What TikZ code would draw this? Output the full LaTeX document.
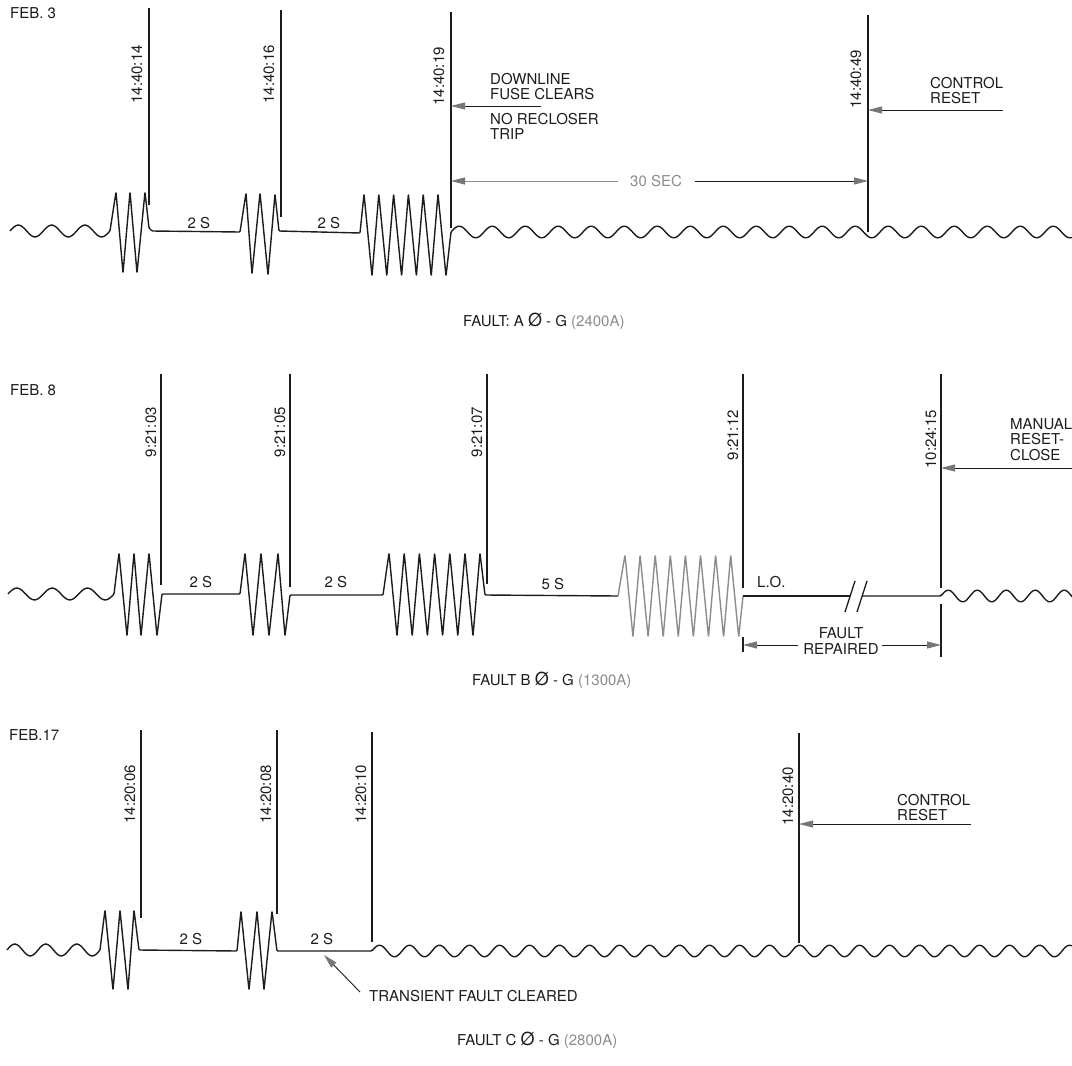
\documentclass[tikz,border=0pt]{standalone}
\usepackage{fontspec}
\setmainfont{TeX Gyre Heros}
\usetikzlibrary{arrows.meta}
\definecolor{ink}{HTML}{1c1c1c}
\definecolor{faint}{HTML}{8c8c8c}
\definecolor{tipgray}{HTML}{767676}
\tikzset{
  note/.style={font=\fontsize{15}{15.5}\selectfont, text=ink, inner sep=0pt},
  stamp/.style={note, rotate=90, anchor=east},
  stampline/.style={draw=ink, line width=1.3pt},
  wave/.style={draw=ink, line width=1.4pt, line join=round, rounded corners=1pt},
  pointer/.style={draw=ink, line width=0.9pt, -{Triangle[length=14pt,width=7pt,color=tipgray]}},
}
\newcommand{\phase}{{\fontsize{18}{18}\selectfont Ø}}

\begin{document}
\begin{tikzpicture}[x=1pt, y=-1pt]
  \useasboundingbox (0,0) rectangle (1072,1066);

  % ---------- FEB. 3 ----------
  \node[note, anchor=west] (feb3) at (10,13) {FEB. 3};
  \foreach \n/\x/\t/\b/\ly/\s in {1/149/8/205/45/14:40:14, 2/281/10/217/45/14:40:16,
      3/451/12/228/47/14:40:19, 4/868/15/232/50/14:40:49} {
    \coordinate (a\n) at (\x,\t);
    \coordinate (a\n-end) at (\x,\b);
    \draw[stampline] (a\n) -- (a\n-end);
    \node[stamp] (as\n) at (\x-12,\ly) {\s};
  }
  \draw[wave] plot[domain=10:110, samples=61] (\x,{231-6*sin((\x-10)/33.3*360)})
    -- (116,192) -- (123,273) -- (130,192) -- (137,273) -- (145,192) -- (149,228) -- (152,231)
    -- (240,232) -- (246,193) -- (252,274) -- (260,193) -- (268,275) -- (275,194) -- (279,231)
    -- (360,233) \foreach \k in {0,...,5} { -- ({364+14.8*\k},194) -- ({372+14.8*\k},276) }
    -- plot[domain=451:1072, samples=220] (\x,{232-6*sin((\x-451)/33*360)});
  \node[note] (g1) at (199,223) {2 S};
  \node[note] (g2) at (329,223) {2 S};
  \node[note, anchor=north west, align=left] (fuse) at (490,73) {DOWNLINE\\FUSE CLEARS};
  \node[note, anchor=north west, align=left] (norec) at (490,113) {NO RECLOSER\\TRIP};
  \coordinate (fusefrom) at (541,106);
  \draw[pointer] (fusefrom) -- (fusefrom -| a3);
  \node[note, text=faint] (sec) at (656,181) {30 SEC};
  \draw[pointer, draw=faint] ([xshift=-12pt]sec.west) -- (sec.west -| a3);
  \draw[pointer] ([xshift=13pt]sec.east) -- (sec.east -| a4);
  \node[note, anchor=north west, align=left] (ctl1) at (930,77) {CONTROL\\RESET};
  \coordinate (ctl1from) at (1003,110);
  \draw[pointer] (ctl1from) -- (ctl1from -| a4);
  \node[note, anchor=west] (cap1) at (463,321) {FAULT: A \phase{} - G \textcolor{faint}{(2400A)}};

  % ---------- FEB. 8 ----------
  \node[note, anchor=west] (feb8) at (10,390) {FEB. 8};
  \foreach \n/\x/\b/\ly/\s in {1/161/585/407/9:21:03, 2/290/587/407/9:21:05,
      3/487/584/407/9:21:07, 4/743/588/410/9:21:12, 5/941/588/410/10:24:15} {
    \coordinate (b\n) at (\x,374);
    \coordinate (b\n-end) at (\x,\b);
    \draw[stampline] (b\n) -- (b\n-end);
    \node[stamp] (bs\n) at (\x-10,\ly) {\s};
  }
  \draw[stampline] (743,637) -- (743,652);
  \draw[stampline] (941,604) -- (941,657);
  \draw[wave] plot[domain=8:114, samples=61] (\x,{594-6*sin((\x-8)/35.33*360)})
    -- (119,553) -- (127,636) -- (134,553) -- (141,636) -- (149,553) -- (157,636) -- (162,594)
    -- (240,594) -- (245,553) -- (253,636) -- (261,553) -- (269,636) -- (278,553) -- (285,636)
    -- (290,595) -- (383,595) \foreach \k in {0,...,5} { -- ({389+15.2*\k},553) -- ({397+15.2*\k},636) }
    -- (480,553) -- (485,595) -- (618,596);
  \draw[wave, draw=faint] (618,596) \foreach \k in {0,...,7} { -- ({625+15.1*\k},555) -- ({633+15.1*\k},637) }
    -- (743,596);
  \draw[wave] (743,596) -- (850,596);
  \draw[wave] (862,596) -- (941,596)
    -- plot[domain=941:1072, samples=60] (\x,{596-6*sin((\x-941)/29*360)});
  \draw[stampline] (845,612) -- (855,581);
  \draw[stampline] (857,612) -- (867,581);
  \node[note] (g3) at (201,582) {2 S};
  \node[note] (g4) at (336,582) {2 S};
  \node[note] (g5) at (553,584) {5 S};
  \node[note, anchor=west] (lo) at (757,582) {L.O.};
  \node[note, align=center] (rep) at (841,641) {FAULT\\REPAIRED};
  \coordinate (repl) at (798,645);
  \coordinate (repr) at (882,645);
  \draw[pointer] (repl) -- (repl -| b4);
  \draw[pointer] (repr) -- (repr -| b5);
  \node[note, anchor=north west, align=left] (man) at (1010,418) {MANUAL\\RESET-\\CLOSE};
  \coordinate (manfrom) at (1072,468);
  \draw[pointer] (manfrom) -- (manfrom -| b5);
  \node[note, anchor=west] (cap2) at (472,680) {FAULT B \phase{} - G \textcolor{faint}{(1300A)}};

  % ---------- FEB.17 ----------
  \node[note, anchor=west] (feb17) at (9,735) {FEB.17};
  \foreach \n/\x/\t/\b/\ly/\s in {1/141/730/918/765/14:20:06, 2/277/730/914/765/14:20:08,
      3/372/732/942/765/14:20:10, 4/799/733/943/767/14:20:40} {
    \coordinate (c\n) at (\x,\t);
    \coordinate (c\n-end) at (\x,\b);
    \draw[stampline] (c\n) -- (c\n-end);
    \node[stamp] (cs\n) at (\x-11,\ly) {\s};
  }
  \draw[wave] plot[domain=7:100, samples=61] (\x,{950-6*sin((\x-7)/31*360)})
    -- (105,910) -- (113,990) -- (120,910) -- (128,990) -- (134,910) -- (139,950)
    -- (237,951) -- (241,911) -- (249,990) -- (257,911) -- (264,990) -- (272,911) -- (277,951)
    -- (372,951) -- plot[domain=372:1072, samples=240] (\x,{951-6*sin((\x-372)/30*360)});
  \node[note] (g6) at (191,939) {2 S};
  \node[note] (g7) at (322,939) {2 S};
  \node[note, anchor=west] (trans) at (369,996) {TRANSIENT FAULT CLEARED};
  \coordinate (clr) at (324,955);
  \draw[pointer] ([xshift=-9pt,yshift=4pt]trans.west) -- (clr);
  \node[note, anchor=north west, align=left] (ctl3) at (897,794) {CONTROL\\RESET};
  \coordinate (ctl3from) at (971,824);
  \draw[pointer] (ctl3from) -- (ctl3from -| c4);
  \node[note, anchor=west] (cap3) at (457,1040) {FAULT C \phase{} - G \textcolor{faint}{(2800A)}};
\end{tikzpicture}
\end{document}
